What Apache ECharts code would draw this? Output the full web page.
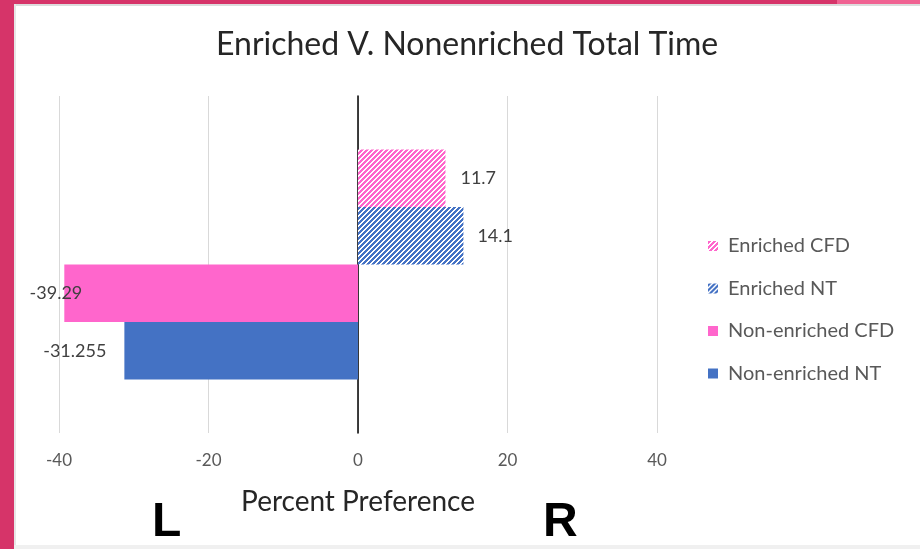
<!DOCTYPE html>
<html>
<head>
<meta charset="utf-8">
<script src="https://cdn.jsdelivr.net/npm/echarts@6/dist/echarts.min.js"></script>
<style>
html,body{margin:0;padding:0;background:#fff;}
#chart{width:920px;height:549px;}
</style>
</head>
<body>
<div id="chart"></div>
<script>
const categories = [''];
const seriesNames = ['Enriched CFD', 'Enriched NT', 'Non-enriched CFD', 'Non-enriched NT'];
const seriesValues = [11.7, 14.1, -39.29, -31.255];
const seriesColors = ['#FF66CC', '#4472C4', '#FF66CC', '#4472C4'];
const hatched = [true, true, false, false];
const xMin = -40, xMax = 40, xInterval = 20;

function makeHatch(color) {
  const s = 5;
  const c = document.createElement('canvas');
  c.width = s; c.height = s;
  const ctx = c.getContext('2d');
  ctx.fillStyle = '#ffffff';
  ctx.fillRect(0, 0, s, s);
  ctx.fillStyle = color;
  for (let x = 0; x < s; x++) {
    for (let y = 0; y < s; y++) {
      if ((x + y) % s < 2.5) ctx.fillRect(x, y, 1, 1);
    }
  }
  return { image: c, repeat: 'repeat' };
}

const labelDist = [15, 14, 0, 18];
const labelOffset = [[0, 0], [0, 0], [18, 0], [0, 0]];

const chart = echarts.init(document.getElementById('chart'), null, { renderer: 'canvas' });

const series = seriesNames.map((name, i) => ({
  name: name,
  type: 'bar',
  data: [seriesValues[i]],
  barGap: '0%',
  barCategoryGap: '31.8%',
  itemStyle: { color: hatched[i] ? makeHatch(seriesColors[i]) : seriesColors[i] },
  label: {
    show: true,
    position: seriesValues[i] >= 0 ? 'right' : 'left',
    distance: labelDist[i],
    offset: labelOffset[i],
    color: '#404040',
    fontSize: 18,
    fontFamily: 'Lato'
  },
  emphasis: { disabled: true },
  animation: false
}));

chart.setOption({
  animation: false,
  backgroundColor: '#ffffff',
  title: {
    text: 'Enriched V. Nonenriched Total Time',
    left: 211,
    top: 24,
    textStyle: { fontFamily: 'Lato', fontSize: 32, fontWeight: 'normal', color: '#262626' }
  },
  legend: {
    orient: 'vertical',
    left: 703,
    top: 231,
    itemWidth: 10,
    itemHeight: 10,
    itemGap: 22.5,
    icon: 'rect',
    data: seriesNames,
    textStyle: { fontFamily: 'Lato', fontSize: 20, color: '#595959', padding: [0, 0, 0, 5] }
  },
  grid: { left: 59, right: 263, top: 96, bottom: 116, containLabel: false },
  xAxis: {
    type: 'value',
    min: xMin, max: xMax, interval: xInterval,
    axisLine: { show: false },
    axisTick: { show: false },
    splitLine: { lineStyle: { color: '#d9d9d9', width: 1 } },
    axisLabel: { color: '#595959', fontSize: 17, fontFamily: 'Lato', margin: 19 },
    name: 'Percent Preference',
    nameLocation: 'middle',
    nameGap: 55,
    nameTextStyle: { fontFamily: 'Lato', fontSize: 28, color: '#262626' }
  },
  yAxis: {
    type: 'category',
    data: categories,
    inverse: true,
    axisLine: { show: true, onZero: true, lineStyle: { color: '#000000', width: 1.5 } },
    axisTick: { show: false },
    axisLabel: { show: false },
    splitLine: { show: false }
  },
  graphic: [
    { type: 'rect', left: 0, top: 0, shape: { width: 14, height: 549 }, style: { fill: '#D63469' }, silent: true },
    { type: 'rect', left: 0, top: 0, shape: { width: 837, height: 4 }, style: { fill: '#D63469' }, silent: true },
    { type: 'rect', left: 837, top: 0, shape: { width: 83, height: 4 }, style: { fill: '#F06292' }, silent: true },
    { type: 'rect', left: 14, top: 4, shape: { width: 906, height: 2 }, style: { fill: '#dcdcdc' }, silent: true },
    { type: 'rect', left: 14, top: 4, shape: { width: 2, height: 545 }, style: { fill: '#e6e6e6' }, silent: true },
    { type: 'rect', left: 14, top: 545, shape: { width: 906, height: 4 }, style: { fill: '#f0f0f0' }, silent: true },
    { type: 'text', style: { x: 152, y: 523, text: 'L', font: 'bold 48px "Liberation Sans"', fill: '#000', textVerticalAlign: 'middle', verticalAlign: 'middle' }, silent: true },
    { type: 'text', style: { x: 543, y: 523, text: 'R', font: 'bold 48px "Liberation Sans"', fill: '#000', textVerticalAlign: 'middle', verticalAlign: 'middle' }, silent: true }
  ],
  series: series
});
</script>
</body>
</html>
